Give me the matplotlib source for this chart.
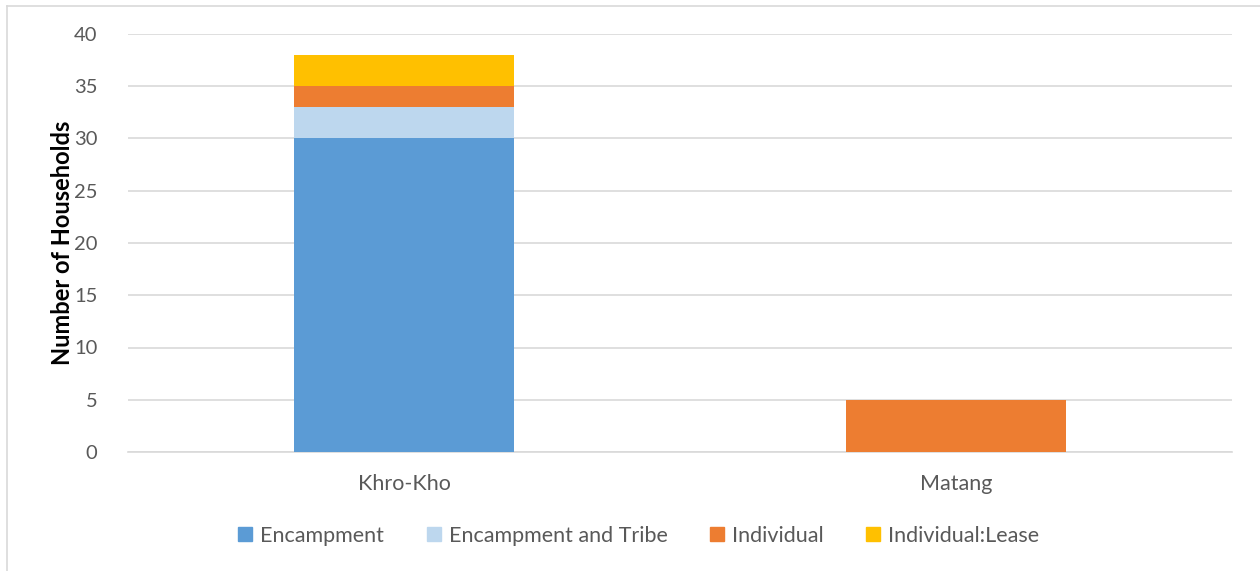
import matplotlib
matplotlib.use("Agg")
import matplotlib.pyplot as plt
from matplotlib.lines import Line2D

# data
sites = ["Khro-Kho", "Matang"]
encampment = [30, 0]
encampment_tribe = [3, 0]
individual = [2, 5]
individual_lease = [3, 0]

series = [
    ("Encampment", encampment, "#5b9bd5"),
    ("Encampment and Tribe", encampment_tribe, "#bdd7ee"),
    ("Individual", individual, "#ed7d31"),
    ("Individual:Lease", individual_lease, "#ffc000"),
]

plt.rcParams['font.family'] = ['Lato', 'DejaVu Sans']
text_col = "#595959"

fig = plt.figure(figsize=(12.6, 5.71), dpi=100)
ax = fig.add_axes([128 / 1260, 1 - 452 / 571, 1104 / 1260, 418 / 571])

x = list(range(len(sites)))
bottom = [0] * len(sites)
for name, vals, col in series:
    ax.bar(x, vals, width=0.4, bottom=bottom, color=col, label=name, zorder=3)
    bottom = [b + v for b, v in zip(bottom, vals)]

ax.set_xlim(-0.5, 1.5)
ax.set_ylim(0, 40)
ax.set_yticks(range(0, 41, 5))
ax.set_xticks(x)
ax.set_xticklabels(sites)
ax.grid(axis="y", color="#d9d9d9", linewidth=1.2, zorder=0)
for s in ["top", "right", "left"]:
    ax.spines[s].set_visible(False)
ax.spines["bottom"].set_color("#d9d9d9")
ax.spines["bottom"].set_linewidth(1.2)
ax.tick_params(axis="both", length=0, colors=text_col)
ax.tick_params(axis="x", pad=16, labelsize=15.5)
ax.tick_params(axis="y", pad=22, labelsize=14.5)
ax.set_ylabel("Number of Households", fontsize=17, fontweight="bold", color="black", labelpad=0)

handles = [Line2D([], [], marker="s", linestyle="", markersize=10, color=col) for _, _, col in series]
fig.legend(handles, [s[0] for s in series], loc="center", bbox_to_anchor=(638 / 1260, 1 - 536 / 571),
           ncol=4, frameon=False, fontsize=15.5, labelcolor=text_col, handletextpad=0.3,
           handlelength=0.8, columnspacing=1.9)

# chart border (left and top edges visible in crop)
fig.add_artist(Line2D([7 / 1260, 7 / 1260], [0, 1 - 6 / 571], transform=fig.transFigure, color="#d9d9d9", lw=1.2))
fig.add_artist(Line2D([7 / 1260, 1], [1 - 6 / 571, 1 - 6 / 571], transform=fig.transFigure, color="#d9d9d9", lw=1.2))

fig.savefig("out.png", dpi=100)
